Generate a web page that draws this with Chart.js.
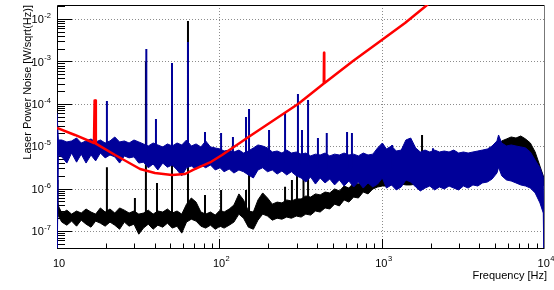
<!DOCTYPE html>
<html>
<head>
<meta charset="utf-8">
<script src="https://cdn.jsdelivr.net/npm/chart.js@4.4.0/dist/chart.umd.min.js"></script>
<style>
  body { margin: 0; background: #fff; }
  canvas { display: block; }
</style>
</head>
<body>
<canvas id="chartcanvas" width="554" height="290"></canvas>
<script>
// frequency grid shared by the two measured spectra [Hz]
var freq = [10, 10.1, 10.2, 10.7, 11.5, 12.3, 13.2, 14.1, 15.1, 16.2,
  17.3, 18.5, 19.8, 21.2, 22.7, 24.3, 26, 27.8, 29.8, 31.9,
  34.1, 36.5, 39.1, 41.8, 44.8, 47.9, 51.3, 54.9, 58.7, 62.8,
  67.2, 71.9, 77, 82.4, 88.2, 94.4, 101, 107, 115, 123,
  132, 141, 151, 162, 173, 185, 198, 212, 227, 243,
  260, 278, 298, 319, 341, 365, 391, 418, 448, 479,
  513, 549, 587, 628, 672, 719, 770, 824, 882, 944,
  1010, 1070, 1150, 1230, 1320, 1410, 1510, 1620, 1730, 1850,
  1980, 2120, 2270, 2430, 2600, 2780, 2980, 3190, 3410, 3650,
  3910, 4180, 4480, 4790, 5130, 5250, 5490, 5870, 6280, 6720,
  7190, 7700, 8240, 8820, 9440, 9900, 10000];

// blue spectrum: upper and lower edge of the noise band
var blueHi = [6.1e-5, 6.1e-5, 1.40e-5, 1.40e-5, 1.26e-5, 1.33e-5, 1.56e-5, 1.19e-5, 1.33e-5, 1.48e-5,
  1.26e-5, 1.40e-5, 1.19e-5, 1.33e-5, 1.65e-5, 1.26e-5, 1.33e-5, 1.19e-5, 1.40e-5, 1.26e-5,
  1.13e-5, 1.01e-5, 1.19e-5, 1.07e-5, 9.6e-6, 1.13e-5, 1.01e-5, 1.19e-5, 1.07e-5, 1.40e-5,
  1.01e-5, 1.13e-5, 9.6e-6, 1.33e-5, 9.6e-6, 9.1e-6, 8.6e-6, 7.7e-6, 8.1e-6, 7.3e-6,
  8.1e-6, 6.9e-6, 7.7e-6, 9.1e-6, 1.07e-5, 1.01e-5, 9.1e-6, 7.3e-6, 7.7e-6, 6.9e-6,
  8.1e-6, 6.9e-6, 7.3e-6, 6.5e-6, 6.9e-6, 5.9e-6, 6.5e-6, 6.2e-6, 6.9e-6, 5.9e-6,
  6.5e-6, 6.2e-6, 6.9e-6, 6.2e-6, 6.5e-6, 5.9e-6, 6.9e-6, 6.2e-6, 6.5e-6, 9.1e-6,
  1.19e-5, 8.6e-6, 1.01e-5, 7.7e-6, 8.1e-6, 1.40e-5, 1.56e-5, 9.1e-6, 7.3e-6, 8.1e-6,
  7.3e-6, 8.1e-6, 7.3e-6, 7.7e-6, 7.3e-6, 8.1e-6, 6.9e-6, 7.3e-6, 6.9e-6, 7.3e-6,
  7.7e-6, 8.1e-6, 8.6e-6, 1.01e-5, 1.33e-5, 1.84e-5, 1.19e-5, 1.01e-5, 1.07e-5, 1.01e-5,
  9.6e-6, 9.1e-6, 7.3e-6, 4.7e-6, 3.1e-6, 1.88e-6, 1e-8];
var blueLo = [1e-8, 1e-8, 6.2e-6, 5.6e-6, 4.0e-6, 6.9e-6, 4.2e-6, 6.5e-6, 4.0e-6, 6.2e-6,
  4.5e-6, 6.9e-6, 5.3e-6, 6.2e-6, 5.6e-6, 4.0e-6, 5.9e-6, 5.3e-6, 5.6e-6, 4.0e-6,
  4.2e-6, 3.1e-6, 3.8e-6, 2.75e-6, 4.0e-6, 3.2e-6, 3.6e-6, 2.75e-6, 2.0e-6, 3.1e-6,
  3.4e-6, 2.9e-6, 3.6e-6, 3.1e-6, 3.6e-6, 2.75e-6, 3.1e-6, 2.5e-6, 2.9e-6, 2.33e-6,
  2.75e-6, 2.5e-6, 2.1e-6, 1.78e-6, 2.75e-6, 3.1e-6, 2.5e-6, 2.75e-6, 2.2e-6, 2.6e-6,
  2.1e-6, 2.5e-6, 2.0e-6, 1.78e-6, 1.43e-6, 1.88e-6, 1.28e-6, 1.78e-6, 1.36e-6, 1.68e-6,
  1.22e-6, 1.6e-6, 1.15e-6, 1.51e-6, 1.09e-6, 1.43e-6, 1.03e-6, 1.36e-6, 1.09e-6, 1.28e-6,
  1.78e-6, 1.03e-6, 1.22e-6, 9.3e-7, 1.09e-6, 1.6e-6, 1.43e-6, 1.09e-6, 8.8e-7, 1.03e-6,
  1.15e-6, 9.3e-7, 1.09e-6, 9.8e-7, 1.15e-6, 1.03e-6, 9.3e-7, 1.15e-6, 1.03e-6, 1.22e-6,
  1.15e-6, 1.36e-6, 1.43e-6, 1.68e-6, 2.33e-6, 3.2e-6, 2.0e-6, 1.6e-6, 1.51e-6, 1.36e-6,
  1.22e-6, 1.15e-6, 1.03e-6, 7.9e-7, 4.6e-7, 2.65e-7, 1e-8];

// black spectrum: upper and lower edge of the noise band
var blackHi = [1.6e-6, 5.4e-7, 3.9e-7, 2.65e-7, 3.1e-7, 2.5e-7, 2.96e-7, 2.65e-7, 3.3e-7, 2.8e-7,
  2.5e-7, 3.5e-7, 2.8e-7, 3.3e-7, 2.65e-7, 3.5e-7, 3.1e-7, 2.65e-7, 2.96e-7, 2.5e-7,
  2.65e-7, 3.1e-7, 2.5e-7, 2.96e-7, 2.8e-7, 3.3e-7, 2.65e-7, 2.96e-7, 2.5e-7, 4.3e-7,
  6.0e-7, 4.8e-7, 2.8e-7, 2.5e-7, 2.8e-7, 2.37e-7, 3.1e-7, 2.8e-7, 3.3e-7, 4.1e-7,
  7.5e-7, 5.4e-7, 2.96e-7, 2.8e-7, 5.4e-7, 7.9e-7, 6.0e-7, 4.3e-7, 4.8e-7, 4.6e-7,
  5.4e-7, 5.1e-7, 5.7e-7, 5.7e-7, 6.7e-7, 6.3e-7, 7.5e-7, 7.1e-7, 8.3e-7, 7.9e-7,
  9.8e-7, 8.8e-7, 1.15e-6, 1.03e-6, 1.36e-6, 1.28e-6, 1.68e-6, 1.6e-6, 2.1e-6, 2.33e-6,
  2.6e-6, 2.33e-6, 2.5e-6, 2.6e-6, 3.4e-6, 4.5e-6, 3.8e-6, 2.75e-6, 3.1e-6, 3.1e-6,
  3.2e-6, 3.2e-6, 3.4e-6, 3.4e-6, 3.6e-6, 3.6e-6, 3.8e-6, 4.0e-6, 4.2e-6, 4.5e-6,
  4.7e-6, 5.3e-6, 5.9e-6, 6.9e-6, 8.1e-6, 9.6e-6, 1.33e-5, 1.48e-5, 1.65e-5, 1.56e-5,
  1.74e-5, 1.48e-5, 1.19e-5, 7.3e-6, 3.4e-6, 2.0e-6, 1.78e-6];
var blackLo = [1.6e-6, 2.8e-7, 2.25e-7, 1.62e-7, 1.37e-7, 1.71e-7, 1.30e-7, 1.8e-7, 1.45e-7, 1.23e-7,
  1.71e-7, 1.53e-7, 1.30e-7, 1.62e-7, 1.37e-7, 1.10e-7, 1.62e-7, 1.30e-7, 1.45e-7, 8.4e-8,
  1.17e-7, 1.45e-7, 1.10e-7, 1.37e-7, 1.23e-7, 1.53e-7, 1.17e-7, 1.30e-7, 8.9e-8, 1.62e-7,
  1.9e-7, 1.71e-7, 1.30e-7, 1.17e-7, 1.37e-7, 1.10e-7, 1.30e-7, 1.17e-7, 1.37e-7, 1.62e-7,
  2.5e-7, 2.0e-7, 1.23e-7, 1.10e-7, 1.8e-7, 2.5e-7, 2.25e-7, 1.8e-7, 2.0e-7, 1.9e-7,
  2.13e-7, 2.0e-7, 2.25e-7, 2.13e-7, 2.5e-7, 2.37e-7, 2.96e-7, 2.8e-7, 3.5e-7, 3.3e-7,
  4.3e-7, 3.9e-7, 5.4e-7, 4.8e-7, 6.3e-7, 6.0e-7, 8.3e-7, 7.5e-7, 9.8e-7, 1.09e-6,
  1.15e-6, 1.15e-6, 1.22e-6, 1.22e-6, 1.28e-6, 1.22e-6, 1.22e-6, 1.28e-6, 1.36e-6, 1.36e-6,
  1.43e-6, 1.43e-6, 1.43e-6, 1.51e-6, 1.51e-6, 1.6e-6, 1.6e-6, 1.68e-6, 1.68e-6, 1.78e-6,
  1.78e-6, 1.88e-6, 2.0e-6, 2.1e-6, 2.5e-6, 3.4e-6, 3.1e-6, 3.1e-6, 3.2e-6, 3.2e-6,
  3.1e-6, 2.75e-6, 2.5e-6, 2.0e-6, 1.6e-6, 1.22e-6, 1.15e-6];

// narrow lines sticking out of the bands
var blueSpikeFreq = [20.3, 35.5, 40.7, 51.1, 64.1, 81.6, 102.5, 121.3, 146, 152.4, 202.4, 254, 305, 323, 352, 405, 459, 612, 656, 1160, 2070];
var blueSpikeTop = [1.16e-4, 1.96e-3, 4.4e-5, 9.2e-4, 2.87e-3, 2.16e-5, 2.05e-5, 1.65e-5, 4.9e-5, 7.5e-5, 2.41e-5, 6.1e-5, 1.7e-4, 2.4e-5, 1.23e-4, 1.56e-5, 2.05e-5, 2.16e-5, 2.05e-5, 1.07e-5, 9.0e-6];
var blueSpikeBase = [8e-6, 6e-6, 6e-6, 5e-6, 5e-6, 5e-6, 5e-6, 4.5e-6, 4.5e-6, 4.5e-6, 4e-6, 4e-6, 3.5e-6, 3.5e-6, 3.5e-6, 3e-6, 3e-6, 3e-6, 3e-6, 3e-6, 3e-6];

var blackSpikeFreq = [20.3, 30.2, 35.3, 41.3, 51.1, 64.1, 81.6, 102.5, 146, 152.4, 254, 280, 301, 330, 352, 1773];
var blackSpikeTop = [3.2e-6, 6.0e-7, 1.0e-3, 1.35e-6, 5.0e-4, 9.0e-3, 7.1e-7, 9.3e-7, 9.3e-7, 3.0e-6, 1.1e-6, 1.6e-6, 2.3e-6, 2.0e-6, 2.5e-6, 1.84e-5];
var blackSpikeBase = [2e-7, 2e-7, 2e-7, 2e-7, 2e-7, 2e-7, 2e-7, 2e-7, 2e-7, 2e-7, 3e-7, 3e-7, 3.5e-7, 4e-7, 4e-7, 3e-6];

// red model curve
var redFreq = [10, 12.9, 16.9, 17.05, 17.2, 17.35, 22.8, 32.5, 40.1, 51.1, 61.5, 68.9, 87.6, 103.9, 154.6, 236.6, 305.5, 417.4, 440, 441.5, 443, 666, 964, 1393, 1904, 2133];
var redVal = [2.69e-5, 1.84e-5, 1.19e-5, 1.2e-4, 1.2e-4, 1.15e-5, 6.2e-6, 2.9e-6, 2.33e-6, 2.09e-6, 2.21e-6, 2.75e-6, 4.13e-6, 6.2e-6, 1.74e-5, 5.15e-5, 9.9e-5, 2.55e-4, 3.0e-4, 1.6e-3, 3.05e-4, 1.02e-3, 2.87e-3, 8.05e-3, 2.14e-2, 3.13e-2];

// axis labels
var xTicks = [10, 100, 1000, 10000];
var xTickExp = ['', '2', '3', '4'];
var yTicks = [1e-7, 1e-6, 1e-5, 1e-4, 1e-3, 1e-2];
var yTickExp = ['-7', '-6', '-5', '-4', '-3', '-2'];
var xTitle = 'Frequency [Hz]';
var yTitle = 'Laser Power Noise [W/sqrt(Hz)]';

var FONT = '"Liberation Sans", Arial, Helvetica, sans-serif';
var BLUE = '#000099';

function pairs(xs, ys) {
  return xs.map(function(x, i) { return {x: x, y: ys[i]}; });
}
// every spike is base -> top, then a gap
function spikes(fs, base, top) {
  var d = [];
  fs.forEach(function(f, i) {
    d.push({x: f, y: base[i]}, {x: f, y: top[i]}, {x: f, y: null});
  });
  return d;
}

// superscript label like ROOT's 10^{n}
function powLabel(ctx, exp, x, y, align) {
  ctx.font = '11px ' + FONT;
  var wb = ctx.measureText('10').width;
  ctx.font = '7.5px ' + FONT;
  var we = exp ? ctx.measureText(exp).width + 0.5 : 0;
  var left = align == 'right' ? x - wb - we : x - (wb + we) / 2;
  ctx.textAlign = 'left';
  ctx.textBaseline = 'alphabetic';
  ctx.font = '11px ' + FONT;
  ctx.fillText('10', left, y);
  if (exp) {
    ctx.font = '7.5px ' + FONT;
    ctx.fillText(exp, left + wb + 0.5, y - 5.3);
  }
}

var rootAxes = {
  id: 'rootAxes',
  beforeDatasetsDraw: function(chart) {
    var ctx = chart.ctx, a = chart.chartArea;
    var xs = chart.scales.x, ys = chart.scales.y;
    ctx.save();
    // dotted grid on the decades
    ctx.strokeStyle = '#8c8c8c';
    ctx.lineWidth = 1;
    ctx.setLineDash([1, 2]);
    ctx.beginPath();
    xTicks.forEach(function(v) {
      var px = Math.round(xs.getPixelForValue(v)) + 0.5;
      if (px <= a.left + 2 || px >= a.right - 2) return;
      ctx.moveTo(px, a.top);
      ctx.lineTo(px, a.bottom);
    });
    yTicks.forEach(function(v) {
      var py = Math.round(ys.getPixelForValue(v)) + 0.5;
      ctx.moveTo(a.left, py);
      ctx.lineTo(a.right, py);
    });
    ctx.stroke();
    ctx.setLineDash([]);

    // tick marks inside the frame
    ctx.strokeStyle = '#000';
    ctx.beginPath();
    var k, m, v;
    for (k = -8; k <= -2; k++) {
      for (m = 1; m <= 9; m++) {
        v = m * Math.pow(10, k);
        if (v < ys.min || v > ys.max) continue;
        var py = Math.round(ys.getPixelForValue(v)) + 0.5;
        ctx.moveTo(a.left, py);
        ctx.lineTo(a.left + (m == 1 ? 15 : 8), py);
      }
    }
    for (k = 1; k <= 4; k++) {
      for (m = 1; m <= 9; m++) {
        v = m * Math.pow(10, k);
        if (v > xs.max) break;
        var px = Math.round(xs.getPixelForValue(v)) + 0.5;
        ctx.moveTo(px, a.bottom);
        ctx.lineTo(px, a.bottom - (m == 1 ? 9 : 4.5));
      }
    }
    ctx.stroke();

    // frame
    ctx.beginPath();
    ctx.moveTo(a.left + 0.5, a.bottom + 0.5);
    ctx.lineTo(a.left + 0.5, a.top + 0.5);
    ctx.lineTo(a.right + 0.5, a.top + 0.5);
    ctx.moveTo(a.left + 0.5, a.bottom + 0.5);
    ctx.lineTo(a.right + 0.5, a.bottom + 0.5);
    ctx.stroke();
    ctx.strokeStyle = '#777';
    ctx.beginPath();
    ctx.moveTo(a.right + 0.5, a.top + 0.5);
    ctx.lineTo(a.right + 0.5, a.bottom + 0.5);
    ctx.stroke();
    ctx.restore();
  },
  afterDraw: function(chart) {
    var ctx = chart.ctx, a = chart.chartArea;
    var xs = chart.scales.x, ys = chart.scales.y;
    ctx.save();
    ctx.fillStyle = '#000';
    yTicks.forEach(function(v, i) {
      powLabel(ctx, yTickExp[i], 51, ys.getPixelForValue(v) + 4.3, 'right');
    });
    xTicks.forEach(function(v, i) {
      powLabel(ctx, xTickExp[i], xs.getPixelForValue(v) + 2, 266.6, 'center');
    });
    ctx.font = '11px ' + FONT;
    ctx.textAlign = 'right';
    ctx.fillText(xTitle, 547, 278.5);
    ctx.translate(31, 5);
    ctx.rotate(-Math.PI / 2);
    ctx.fillText(yTitle, 0, 0);
    ctx.restore();
  }
};

var line = {pointRadius: 0, tension: 0, spanGaps: false};

var ctx = document.getElementById('chartcanvas');
var chart = new Chart(ctx, {
  type: 'line',
  data: {
    datasets: [
      Object.assign({data: pairs(redFreq, redVal), borderColor: '#ff0000', borderWidth: 2.5, borderJoinStyle: 'round', fill: false}, line),
      Object.assign({data: spikes(blueSpikeFreq, blueSpikeBase, blueSpikeTop), borderColor: BLUE, borderWidth: 2, fill: false}, line),
      Object.assign({data: pairs(freq, blueHi), borderColor: BLUE, backgroundColor: BLUE, borderWidth: 1, fill: '+1'}, line),
      Object.assign({data: pairs(freq, blueLo), borderColor: BLUE, borderWidth: 1, fill: false}, line),
      Object.assign({data: spikes(blackSpikeFreq, blackSpikeBase, blackSpikeTop), borderColor: '#000', borderWidth: 2, fill: false}, line),
      Object.assign({data: pairs(freq, blackHi), borderColor: '#000', backgroundColor: '#000', borderWidth: 1, fill: '+1'}, line),
      Object.assign({data: pairs(freq, blackLo), borderColor: '#000', borderWidth: 1, fill: false}, line)
    ]
  },
  options: {
    responsive: false,
    animation: false,
    events: [],
    layout: {padding: {top: 5, right: 10, left: 0, bottom: 0}},
    plugins: {legend: {display: false}, tooltip: {enabled: false}},
    scales: {
      x: {
        type: 'logarithmic', min: 10, max: 10000,
        grid: {display: false}, border: {display: false},
        ticks: {display: false},
        afterFit: function(s) { s.height = 42; }
      },
      y: {
        type: 'logarithmic', min: 3.97e-8, max: 0.0214,
        grid: {display: false}, border: {display: false},
        ticks: {display: false},
        afterFit: function(s) { s.width = 57; }
      }
    }
  },
  plugins: [rootAxes]
});
</script>
</body>
</html>
